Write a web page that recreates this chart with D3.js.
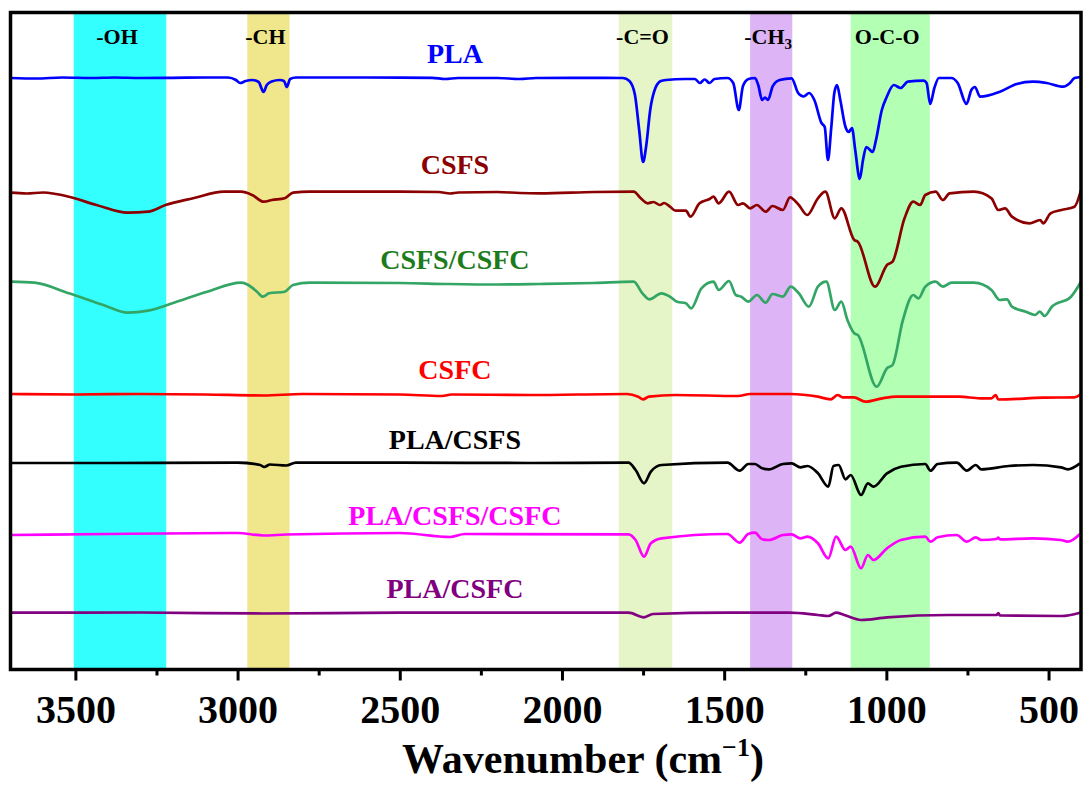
<!DOCTYPE html>
<html>
<head>
<meta charset="utf-8">
<script src="https://cdn.jsdelivr.net/npm/d3@7"></script>
<style>
  body { margin: 0; background: #fff; }
  text { font-family: "Times New Roman", "Liberation Serif", serif; font-weight: bold; }
</style>
</head>
<body>
<div id="chart"></div>
<script>
// FTIR spectra, wavenumber (cm-1) vs transmittance (a.u., stacked)

var seriesNames = ["PLA", "CSFS", "CSFS/CSFC", "CSFC", "PLA/CSFS", "PLA/CSFS/CSFC", "PLA/CSFC"];
var lineColors = ["#0000FF", "#8B0000", "#33A565", "#FF0000", "#000000", "#FF00FF", "#800080"];
var labelColors = ["#0000FF", "#8B0000", "#1C7C1C", "#FF0000", "#000000", "#FF00FF", "#800080"];

var bandNames = ["-OH", "-CH", "-C=O", "-CH3", "O-C-O"];
var bandStart = [3505, 2970, 1825, 1420, 1110];
var bandEnd = [3220, 2840, 1660, 1290, 866];
var bandColors = ["#33FFFF", "#F0E68C", "#E6F5C8", "#DDB4F5", "#B3FFB3"];

var majorTicks = [3500, 3000, 2500, 2000, 1500, 1000, 500];
var minorTicks = [3250, 2750, 2250, 1750, 1250, 750];

var pla = [[3700,59.15],[3620,59.10],[3540,59.20],[3450,59.15],[3380,59.20],[3300,59.15],[3200,59.17],[3100,59.20],[3030,59.20],
  [3005,58.95],[2992,58.65],[2975,58.85],[2955,58.95],[2935,58.75],[2920,57.75],[2910,58.45],[2895,58.80],[2870,58.95],[2857,58.85],[2848,58.25],[2838,59.05],[2820,59.20],
  [2600,59.20],[2400,59.17],[2360,59.05],[2320,59.15],[2200,59.15],[2130,59.05],[2080,59.15],[1900,59.17],[1812,59.15],
  [1792,58.85],[1775,57.45],[1762,53.95],[1750,50.75],[1740,52.45],[1728,55.95],[1712,58.15],[1695,58.85],[1680,58.95],
  [1620,59.05],[1590,59.05],[1575,58.65],[1560,59.00],[1545,58.65],[1530,59.05],[1490,59.15],
  [1472,58.65],[1455,55.95],[1442,58.35],[1425,59.05],[1405,59.15],[1395,58.45],[1383,56.95],[1374,57.20],[1365,56.95],[1350,58.35],[1329,58.95],[1292,59.12],
  [1272,57.65],[1255,57.30],[1238,57.65],[1222,56.95],[1200,54.65],[1190,54.25],[1180,50.95],[1170,54.15],[1160,57.75],[1152,58.45],[1142,56.95],[1126,54.25],[1116,53.75],[1106,54.15],[1096,51.95],[1082,49.05],[1072,50.95],[1062,52.25],[1042,51.75],[1032,52.95],
  [1014,55.95],[999,57.25],[977,58.45],[956,58.15],[934,58.78],[885,58.88],[876,58.65],[865,56.55],[852,58.15],[838,59.15],
  [800,59.15],[780,58.65],[753,56.55],[738,57.95],[727,58.25],[711,57.28],[650,57.78],[598,58.55],[548,58.78],[506,58.65],[455,58.28],[434,58.65],[420,59.15],[400,59.25]];

var csfs = [[3700,47.68],[3650,47.60],[3600,47.70],[3560,47.55],[3520,47.28],[3435,46.45],[3339,45.68],[3276,45.78],[3222,46.45],[3137,47.12],[3042,47.78],
  [2989,47.78],[2955,47.45],[2919,46.78],[2894,46.95],[2855,47.12],[2829,47.68],[2777,47.78],[2500,47.78],[2380,47.75],[2345,47.60],[2320,47.70],[2200,47.75],[2130,47.65],[2068,47.62],[1900,47.75],
  [1779,47.78],[1757,47.12],[1736,46.62],[1718,46.75],[1698,46.45],[1685,46.65],[1667,46.28],[1650,45.88],[1618,45.88],[1604,45.28],[1576,46.62],[1545,47.05],[1533,47.28],[1517,46.62],[1485,47.78],
  [1457,46.45],[1442,46.62],[1420,46.12],[1399,46.45],[1372,45.78],[1351,46.35],[1319,45.95],[1297,47.22],[1270,46.45],[1244,45.45],[1211,47.12],[1188,47.78],[1159,45.12],[1139,46.12],
  [1099,42.95],[1088,42.78],[1035,38.28],[998,40.45],[981,40.78],[944,45.12],[917,46.78],[896,46.45],[880,47.45],[848,47.78],[826,46.95],[805,47.62],[730,47.78],
  [676,47.12],[655,45.95],[634,46.12],[613,45.28],[559,44.62],[526,44.95],[516,44.62],[494,45.62],[460,45.95],[420,46.28],[400,47.95]];

var csfsCsfc = [[3700,38.78],[3626,38.68],[3520,37.62],[3414,36.45],[3339,35.68],[3276,35.88],[3201,36.62],[3094,37.78],[2989,38.68],[2967,38.45],[2940,37.78],[2922,37.28],[2903,37.62],[2855,37.78],[2829,38.45],[2777,38.68],
  [2500,38.65],[2350,38.55],[2200,38.50],[2068,38.55],[1900,38.65],[1779,38.78],[1752,37.62],[1731,37.02],[1693,37.62],[1667,37.28],[1645,36.78],[1618,36.62],[1602,36.12],[1570,38.12],[1533,38.78],[1517,37.95],[1485,38.85],
  [1464,37.45],[1447,37.28],[1426,36.78],[1399,37.45],[1372,36.68],[1351,37.55],[1319,37.28],[1295,38.28],[1270,37.62],[1239,36.28],[1211,38.28],[1185,38.78],[1159,35.95],[1139,36.78],[1120,34.95],
  [1099,33.62],[1088,33.45],[1030,28.28],[998,30.12],[981,30.45],[949,34.95],[917,37.45],[901,37.12],[880,38.28],[848,38.78],[826,38.28],[799,38.68],[730,38.68],
  [676,37.95],[650,36.95],[628,37.02],[613,36.28],[570,35.78],[542,35.45],[527,35.78],[512,35.35],[490,36.28],[431,37.28],[400,38.78]];

var csfc = [[3700,27.55],[3500,27.50],[3300,27.55],[3100,27.50],[2920,27.40],[2800,27.55],[2500,27.50],[2370,27.35],[2340,27.50],[2100,27.45],[1800,27.55],
  [1765,27.28],[1750,27.02],[1732,27.28],[1650,27.45],[1457,27.35],[1420,27.55],[1297,27.55],[1211,27.28],[1172,27.02],[1150,27.45],[1135,27.22],[1100,27.22],
  [1065,26.78],[1012,27.12],[968,27.28],[860,27.28],[775,27.28],[711,27.12],[676,27.12],[663,27.45],[655,27.00],[516,27.18],[420,27.22],[400,27.55]];

var plaCsfs = [[3700,20.65],[3400,20.65],[3000,20.68],[2930,20.45],[2918,20.25],[2900,20.50],[2850,20.40],[2820,20.68],[2500,20.68],[2100,20.65],
  [1795,20.68],[1773,19.95],[1747,18.62],[1726,19.78],[1693,20.45],[1490,20.68],[1452,19.88],[1426,20.55],[1405,20.55],[1383,20.12],[1362,20.02],[1319,20.55],[1292,20.62],
  [1265,20.22],[1243,20.35],[1211,19.62],[1179,18.28],[1163,20.35],[1147,20.45],[1126,19.02],[1110,19.45],[1078,17.45],[1057,18.62],[1040,18.28],[998,19.62],[955,20.28],
  [880,20.55],[864,19.88],[842,20.55],[783,20.68],[752,19.88],[724,20.45],[708,20.02],[623,20.35],[548,20.45],[462,20.22],[441,20.02],[403,20.62]];

var plaCsfsCsfc = [[3700,13.45],[3400,13.55],[3000,13.65],[2920,13.40],[2850,13.50],[2500,13.65],[2345,13.25],[2300,13.55],
  [1795,13.52],[1773,12.95],[1747,11.28],[1726,12.62],[1693,13.12],[1490,13.55],[1452,12.68],[1426,13.55],[1405,13.68],[1383,13.02],[1362,12.95],[1319,13.45],[1292,13.52],
  [1265,13.12],[1243,13.28],[1211,12.62],[1179,11.12],[1155,13.28],[1126,11.95],[1110,12.28],[1078,10.12],[1057,11.45],[1040,10.95],[998,12.12],[955,12.95],
  [880,13.28],[864,12.78],[842,13.22],[783,13.45],[752,12.78],[724,13.22],[708,12.95],[660,13.05],[655,13.20],[650,13.02],[548,13.12],[462,12.95],[441,12.78],[403,13.55]];

var plaCsfc = [[3700,5.68],[3300,5.70],[2920,5.60],[2500,5.68],[1795,5.68],[1747,5.22],[1720,5.55],[1490,5.68],[1300,5.68],[1211,5.45],[1179,5.35],[1155,5.68],
  [1130,5.45],[1078,4.95],[998,5.22],[810,5.45],[660,5.45],[655,5.65],[650,5.40],[460,5.35],[403,5.68]];

var allSeries = [pla, csfs, csfsCsfc, csfc, plaCsfs, plaCsfsCsfc, plaCsfc];

// layout
var svgWidth = 1083;
var svgHeight = 785;
var margin = { top: 12.5, right: 2, bottom: 115.5, left: 10.5 };
var chartWidth = svgWidth - margin.left - margin.right;
var chartHeight = svgHeight - margin.top - margin.bottom;
var labelDy = [15, 19, 13, 15, 14, 10, 15];
var labelWn = 2330;

var svg = d3.select("#chart")
  .append("svg")
  .attr("width", svgWidth)
  .attr("height", svgHeight);

var chartGroup = svg.append("g")
  .attr("transform", `translate(${margin.left}, ${margin.top})`);

var xScale = d3.scaleLinear()
  .domain([3700, 400])
  .range([0, chartWidth]);

var yScale = d3.scaleLinear()
  .domain([0, 65.7])
  .range([chartHeight, 0]);

// shaded bands
bandNames.forEach(function(name, i) {
  chartGroup.append("rect")
    .attr("x", xScale(bandStart[i]))
    .attr("y", 0)
    .attr("width", xScale(bandEnd[i]) - xScale(bandStart[i]))
    .attr("height", chartHeight)
    .attr("fill", bandColors[i]);

  var t = chartGroup.append("text")
    .attr("x", xScale((bandStart[i] + bandEnd[i]) / 2) - 3)
    .attr("y", 31)
    .attr("text-anchor", "middle")
    .attr("font-size", "22px")
    .attr("fill", "#000");
  if (name === "-CH3") {
    t.append("tspan").text("-CH");
    t.append("tspan").attr("font-size", "15px").attr("dy", "5").text("3");
  } else {
    t.text(name);
  }
});

// spectra
var line = d3.line()
  .x(d => xScale(d[0]))
  .y(d => yScale(d[1]))
  .curve(d3.curveMonotoneX);

allSeries.forEach(function(s, i) {
  chartGroup.append("path")
    .datum(s)
    .attr("d", line)
    .attr("fill", "none")
    .attr("stroke", lineColors[i])
    .attr("stroke-width", 2.7)
    .attr("stroke-linejoin", "round");

  chartGroup.append("text")
    .attr("x", xScale(labelWn))
    .attr("y", yScale(s[0][1]) - labelDy[i])
    .attr("text-anchor", "middle")
    .attr("font-size", "28px")
    .attr("fill", labelColors[i])
    .text(seriesNames[i]);
});

// frame
chartGroup.append("rect")
  .attr("x", 0)
  .attr("y", 0)
  .attr("width", chartWidth)
  .attr("height", chartHeight)
  .attr("fill", "none")
  .attr("stroke", "#000")
  .attr("stroke-width", 3.5);

// x axis
var xAxis = d3.axisBottom(xScale)
  .tickValues(majorTicks)
  .tickSize(11)
  .tickFormat(d3.format("d"));

var axisG = chartGroup.append("g")
  .attr("transform", `translate(0, ${chartHeight})`)
  .call(xAxis);
axisG.select(".domain").remove();
axisG.selectAll(".tick line").attr("stroke", "#000").attr("stroke-width", 3);
axisG.selectAll(".tick text")
  .attr("y", 53.5)
  .attr("dy", null)
  .attr("font-size", "40px")
  .attr("fill", "#000");

var minorAxis = d3.axisBottom(xScale)
  .tickValues(minorTicks)
  .tickSize(6)
  .tickFormat("");
var minorG = chartGroup.append("g")
  .attr("transform", `translate(0, ${chartHeight})`)
  .call(minorAxis);
minorG.select(".domain").remove();
minorG.selectAll(".tick line").attr("stroke", "#000").attr("stroke-width", 3);

// axis title
var title = svg.append("text")
  .attr("x", 583)
  .attr("y", 773)
  .attr("text-anchor", "middle")
  .attr("font-size", "42px")
  .attr("fill", "#000");
title.append("tspan").text("Wavenumber (cm");
title.append("tspan").attr("font-size", "26px").attr("dy", "-17").text("\u22121");
title.append("tspan").attr("dy", "17").text(")");
</script>
</body>
</html>
